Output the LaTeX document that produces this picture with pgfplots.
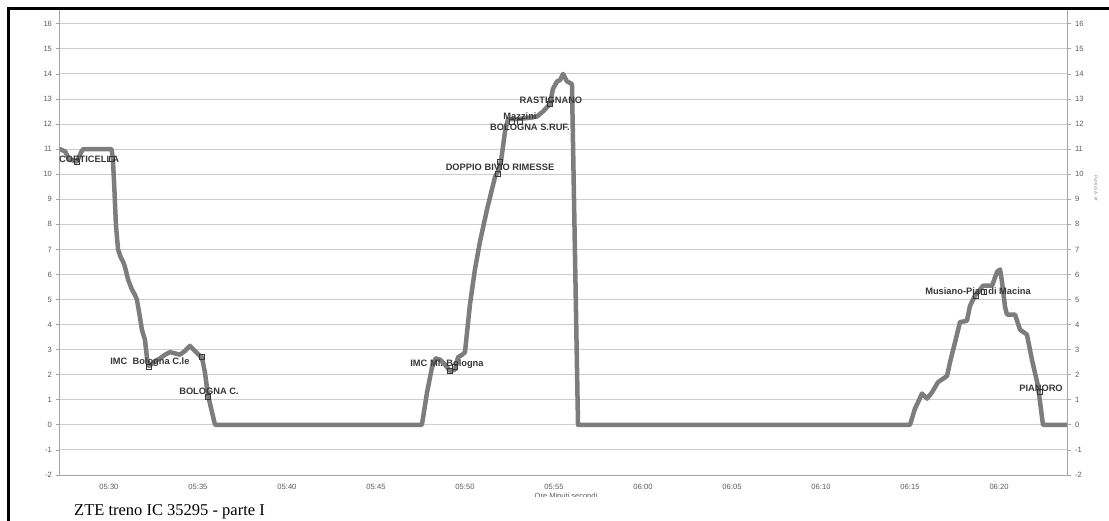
\documentclass[border=0pt]{standalone}
\usepackage{pgfplots}
\pgfplotsset{compat=1.18}
\usepackage{fontspec}
\setmainfont{Liberation Sans}
\newfontfamily\serif{Liberation Serif}
\definecolor{trace}{RGB}{125,125,125}
\definecolor{ticktext}{RGB}{90,90,90}
\definecolor{gridc}{RGB}{205,205,205}
\definecolor{axisc}{RGB}{165,165,165}
\definecolor{lab}{RGB}{55,55,55}
\begin{document}
\begin{tikzpicture}
\useasboundingbox (0pt,0pt) rectangle (1109pt,520pt);
\begin{axis}[
  at={(60pt,45pt)}, anchor=south west, scale only axis,
  width=1007pt, height=465pt,
  xmin=327.25, xmax=383.82, ymin=-2, ymax=16.55,
  ytick={-2,-1,0,1,2,3,4,5,6,7,8,9,10,11,12,13,14,15,16},
  xtick={330,335,340,345,350,355,360,365,370,375,380},
  xticklabels={05:30,05:35,05:40,05:45,05:50,05:55,06:00,06:05,06:10,06:15,06:20},
  ymajorgrids, grid style={gridc, line width=0.9pt},
  axis line style={axisc, line width=1pt},
  tick align=outside, major tick length=4pt,
  ytick style={axisc, line width=0.8pt},
  xtick style={draw=none},
  ytick pos=left,
  tick label style={font=\fontsize{7.6}{8}\selectfont, text=ticktext},
  /pgf/number format/assume math mode=true,
  yticklabel style={xshift=-0.5pt},
  xticklabel style={yshift=-2pt},
]
\addplot[trace, line width=4.5pt, line join=round, line cap=round] coordinates {
(327.25,11.0) (327.55,10.9) (327.75,10.6) (328.20,10.5) (328.45,10.9) (328.55,11.0)
(330.15,11.0) (330.22,10.6) (330.30,9.5) (330.39,8.0) (330.51,7.0) (330.65,6.7)
(330.80,6.5) (330.90,6.3) (331.07,5.8) (331.29,5.4) (331.45,5.2) (331.57,5.0)
(331.74,4.3) (331.85,3.8) (332.02,3.4) (332.15,2.6) (332.25,2.35) (332.45,2.45)
(332.60,2.55) (332.87,2.65) (333.15,2.8) (333.43,2.9) (333.71,2.85) (333.99,2.8)
(334.27,2.95) (334.55,3.15) (334.83,2.95) (335.11,2.75) (335.22,2.7) (335.39,2.1)
(335.56,1.2) (335.79,0.5) (335.96,0.0)
(347.58,0.0) (347.87,1.3) (348.15,2.3) (348.35,2.65) (348.60,2.6) (348.88,2.4)
(349.16,2.15) (349.44,2.2) (349.61,2.7) (349.85,2.8) (350.00,2.9) (350.28,4.8)
(350.56,6.2) (350.84,7.3) (351.24,8.6) (351.69,9.9) (351.85,10.1) (352.02,10.5)
(352.25,11.7) (352.42,12.2) (352.92,12.2) (353.65,12.25) (354.04,12.3) (354.38,12.5)
(354.78,12.8) (354.94,13.4) (355.17,13.7) (355.34,13.75) (355.51,14.0) (355.73,13.7)
(356.01,13.6) (356.10,10.0) (356.35,0.0)
(375.00,0.0) (375.28,0.65) (375.45,0.9) (375.67,1.25) (375.96,1.05) (376.24,1.3)
(376.57,1.7) (377.08,1.95) (377.25,2.5) (377.53,3.3) (377.81,4.1) (378.20,4.15)
(378.37,4.75) (378.65,5.15) (379.10,5.55) (379.61,5.55) (379.89,6.1) (380.06,6.2)
(380.17,5.7) (380.34,4.7) (380.45,4.4) (380.90,4.4) (381.18,3.8) (381.57,3.6)
(381.85,2.6) (382.19,1.55) (382.47,0.0) (383.82,0.0)
};
\addplot[only marks, mark=square, mark size=2.6pt, mark options={draw=lab, line width=0.8pt, fill=none}] coordinates {
(328.20,10.5) (330.17,10.6) (332.25,2.3) (335.22,2.7) (335.56,1.1)
(349.16,2.15) (349.44,2.3) (351.85,10.0) (351.97,10.5) (352.64,12.1)
(353.09,12.1) (354.78,12.8) (378.71,5.15) (379.16,5.3) (382.30,1.3)
};
\begin{scope}[every node/.style={font=\bfseries\fontsize{9.3}{10}\selectfont, text=lab, inner sep=0pt}]
\node at (axis cs:328.88,10.61) {CORTICELLA};
\node at (axis cs:332.30,2.51) {IMC\ \ Bologna C.le};
\node at (axis cs:335.62,1.32) {BOLOGNA C.};
\node at (axis cs:348.99,2.43) {IMC Ml. Bologna};
\node at (axis cs:351.97,10.26) {DOPPIO BIVIO RIMESSE};
\node at (axis cs:353.65,11.89) {BOLOGNA S.RUF.};
\node at (axis cs:353.09,12.33) {Mazzini};
\node at (axis cs:354.83,12.93) {RASTIGNANO};
\node at (axis cs:378.82,5.35) {Musiano-Pian di Macina};
\node at (axis cs:382.36,1.44) {PIANORO};
\end{scope}
\end{axis}
\begin{axis}[
  at={(60pt,45pt)}, anchor=south west, scale only axis,
  width=1007pt, height=465pt,
  xmin=327.25, xmax=383.82, ymin=-2, ymax=16.55,
  axis x line=none, axis y line*=right,
  ytick={-2,-1,0,1,2,3,4,5,6,7,8,9,10,11,12,13,14,15,16},
  axis line style={axisc, line width=1pt},
  tick align=outside, major tick length=4pt,
  ytick style={axisc, line width=0.8pt},
  tick label style={font=\fontsize{7.6}{8}\selectfont, text=ticktext},
  /pgf/number format/assume math mode=true,
  yticklabel style={xshift=0.5pt},
]
\addplot[draw=none] coordinates {(330,0)};
\end{axis}
\node[rotate=-90, font=\fontsize{4.5}{5}\selectfont, text=gray] at (1096pt,332pt) {Punti di A. rif};
\begin{scope}
\clip (480pt,23.5pt) rectangle (660pt,40pt);
\node[font=\fontsize{7.5}{8}\selectfont, text=ticktext] at (566pt,24.5pt) {Ore Minuti secondi};
\end{scope}
\node[anchor=west, font=\serif\fontsize{16.5}{18}\selectfont, inner sep=0pt] at (74pt,8pt) {ZTE treno IC 35295 - parte I};
\draw[black, line width=3pt] (8.5pt,-5pt) -- (8.5pt,511pt) -- (1115pt,511pt);
\end{tikzpicture}
\end{document}
